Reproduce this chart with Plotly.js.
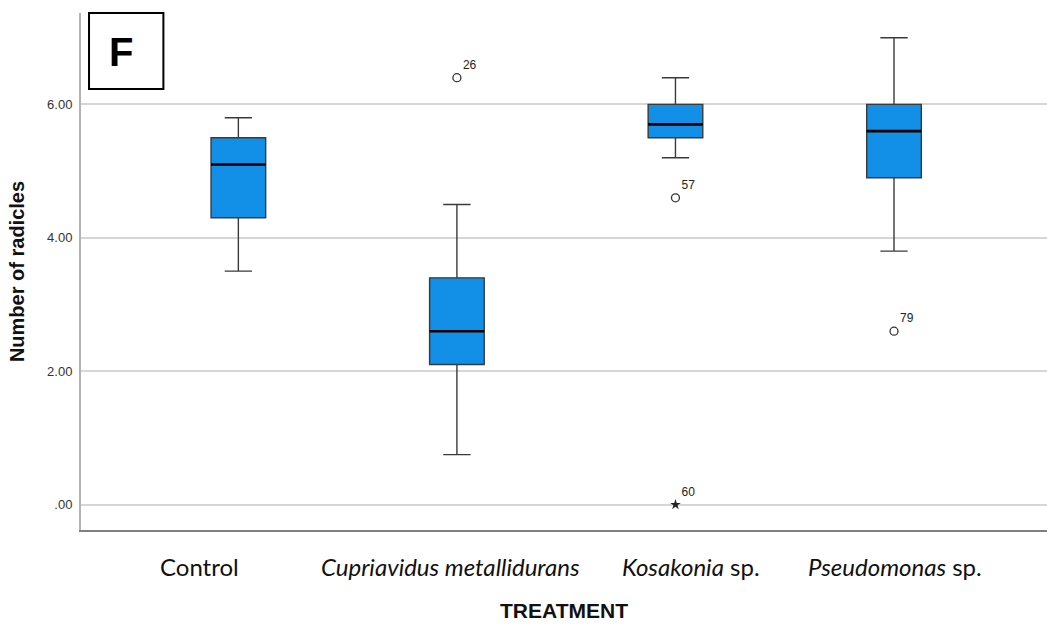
<!DOCTYPE html>
<html>
<head>
<meta charset="utf-8">
<script src="https://cdn.plot.ly/plotly-3.0.1.min.js"></script>
<style>html,body{margin:0;padding:0;background:#fff;}#chart{width:1047px;height:626px;}</style>
</head>
<body>
<div id="chart"></div>
<script>
// ---- data ----
const categories = ['Control', 'Cupriavidus metallidurans', 'Kosakonia sp.', 'Pseudomonas sp.'];
const categoryTickText = ['Control', '<i>Cupriavidus metallidurans</i>', '<i>Kosakonia</i> sp.', '<i>Pseudomonas</i> sp.'];
const q1 = [4.3, 2.1, 5.5, 4.9];
const median = [5.1, 2.6, 5.7, 5.6];
const q3 = [5.5, 3.4, 6.0, 6.0];
const lowerWhisker = [3.5, 0.75, 5.2, 3.8];
const upperWhisker = [5.8, 4.5, 6.4, 7.0];
const outlierCategory = [1, 2, 3];
const outlierValue = [6.4, 4.6, 2.6];
const outlierLabel = ['26', '57', '79'];
const extremeCategory = [2];
const extremeValue = [0];
const extremeLabel = ['60'];
const yTickVals = [0, 2, 4, 6];
const yTickText = ['.00', '2.00', '4.00', '6.00'];

// layout-only: horizontal shift of each category label (the reference labels are not centred on the boxes)
const labelShift = [-0.177, -0.03, 0.073, 0.005];

const boxWidth = 0.25;
const idx = categories.map((_, i) => i);

const medX = [], medY = [];
idx.forEach(i => { medX.push(i - boxWidth / 2, i + boxWidth / 2, null); medY.push(median[i], median[i], null); });

const traces = [
  {
    type: 'box',
    x: idx,
    q1: q1, median: median, q3: q3,
    lowerfence: lowerWhisker, upperfence: upperWhisker,
    width: boxWidth,
    whiskerwidth: 0.5,
    boxpoints: false,
    fillcolor: '#128fe6',
    line: { color: '#3a3a3a', width: 1.4 },
    hoverinfo: 'skip',
    showlegend: false
  },
  {
    type: 'scatter', mode: 'lines',
    x: medX, y: medY,
    line: { color: '#000', width: 2.6 },
    hoverinfo: 'skip', showlegend: false
  },
  {
    type: 'scatter', mode: 'markers+text',
    x: outlierCategory, y: outlierValue,
    text: outlierLabel, textposition: 'top right',
    textfont: { family: 'Arial, Liberation Sans, sans-serif', size: 12, color: '#222' },
    marker: { symbol: 'circle-open', size: 8, color: '#333', line: { width: 1.3, color: '#333' } },
    hoverinfo: 'skip', showlegend: false
  },
  {
    type: 'scatter', mode: 'markers+text',
    x: extremeCategory, y: extremeValue,
    text: extremeLabel, textposition: 'top right',
    textfont: { family: 'Arial, Liberation Sans, sans-serif', size: 12, color: '#222' },
    marker: { symbol: 'star', size: 8, color: '#222' },
    hoverinfo: 'skip', showlegend: false
  }
];

const categoryAnnotations = idx.map(i => ({
  xref: 'x', yref: 'paper', x: i + labelShift[i], y: -0.07,
  text: categoryTickText[i], showarrow: false,
  xanchor: 'center', yanchor: 'middle',
  font: { family: 'Lato, Carlito, sans-serif', size: 24, color: '#111' }
}));

const layout = {
  width: 1047, height: 626,
  margin: { l: 81, r: 0, t: 13, b: 96 },
  paper_bgcolor: '#fff', plot_bgcolor: '#fff',
  showlegend: false,
  xaxis: {
    range: [-0.72, 3.70],
    tickmode: 'array', tickvals: idx, ticktext: idx.map(() => ''),
    ticks: '', showgrid: false, zeroline: false,
    showline: true, linecolor: '#808080', linewidth: 2,
    title: { text: 'TREATMENT', font: { family: 'Arial, Liberation Sans, sans-serif', size: 21, color: '#111', weight: 'bold' }, standoff: 70 }
  },
  yaxis: {
    range: [-0.38, 7.37],
    tickmode: 'array', tickvals: yTickVals, ticktext: yTickText,
    tickfont: { family: 'Arial, Liberation Sans, sans-serif', size: 13, color: '#333' },
    ticks: 'outside', ticklen: 4, tickcolor: 'rgba(0,0,0,0)',
    showgrid: true, gridcolor: '#d6d6d6', gridwidth: 2,
    zeroline: false,
    showline: true, linecolor: '#b3b3b3', linewidth: 2,
    title: { text: 'Number of radicles', font: { family: 'Arial, Liberation Sans, sans-serif', size: 20, color: '#111', weight: 'bold' }, standoff: 17 }
  },
  shapes: [
    { type: 'rect', xref: 'paper', yref: 'paper', x0: 0.0083, x1: 0.0853, y0: 0.853, y1: 1.0,
      line: { color: '#000', width: 2 }, fillcolor: '#fff', layer: 'above' }
  ],
  annotations: [
    { xref: 'paper', yref: 'paper', x: 0.0410, y: 0.9255, text: '<b>F</b>', showarrow: false,
      xanchor: 'center', yanchor: 'middle',
      font: { family: 'Arial, Liberation Sans, sans-serif', size: 40, color: '#000' } }
  ].concat(categoryAnnotations)
};

Plotly.newPlot('chart', traces, layout, { displayModeBar: false, staticPlot: true });
</script>
</body>
</html>
